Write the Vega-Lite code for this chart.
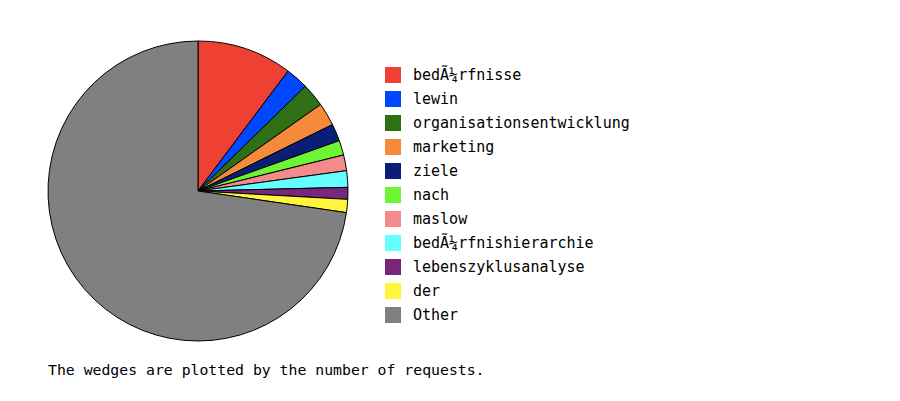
{
  "$schema": "https://vega.github.io/schema/vega-lite/v6.json",
  "width": 300,
  "height": 300,
  "autosize": {"type": "none"},
  "padding": {"left": 48, "top": 41, "right": 552, "bottom": 60},
  "background": "white",
  "data": {
    "values": [
      {"name": "bedÃ¼rfnisse", "requests": 369, "ord": 1},
      {"name": "lewin", "requests": 88, "ord": 2},
      {"name": "organisationsentwicklung", "requests": 91, "ord": 3},
      {"name": "marketing", "requests": 89, "ord": 4},
      {"name": "ziele", "requests": 67, "ord": 5},
      {"name": "nach", "requests": 57, "ord": 6},
      {"name": "maslow", "requests": 61, "ord": 7},
      {"name": "bedÃ¼rfnishierarchie", "requests": 64, "ord": 8},
      {"name": "lebenszyklusanalyse", "requests": 46, "ord": 9},
      {"name": "der", "requests": 51, "ord": 10},
      {"name": "Other", "requests": 2617, "ord": 11}
    ]
  },
  "title": {
    "text": "The wedges are plotted by the number of requests.",
    "orient": "bottom",
    "anchor": "start",
    "offset": 20,
    "dx": 2,
    "font": "DejaVu Sans Mono",
    "fontSize": 14.8,
    "fontWeight": "normal",
    "color": "black"
  },
  "mark": {"type": "arc", "outerRadius": 150, "stroke": "black", "strokeWidth": 1},
  "encoding": {
    "theta": {"field": "requests", "type": "quantitative", "stack": true},
    "order": {"field": "ord", "type": "quantitative"},
    "color": {
      "field": "name",
      "type": "nominal",
      "sort": ["bedÃ¼rfnisse", "lewin", "organisationsentwicklung", "marketing", "ziele", "nach", "maslow", "bedÃ¼rfnishierarchie", "lebenszyklusanalyse", "der", "Other"],
      "scale": {
        "domain": ["bedÃ¼rfnisse", "lewin", "organisationsentwicklung", "marketing", "ziele", "nach", "maslow", "bedÃ¼rfnishierarchie", "lebenszyklusanalyse", "der", "Other"],
        "range": ["#EF4034", "#0048FF", "#2E7016", "#F58A3C", "#0A1E78", "#6CF532", "#F58A8A", "#66FFFF", "#78287A", "#FFF53C", "#808080"]
      },
      "legend": {
        "orient": "none",
        "legendX": 337,
        "legendY": 26,
        "title": null,
        "symbolType": "square",
        "symbolSize": 256,
        "symbolStrokeWidth": 0,
        "labelFont": "DejaVu Sans Mono",
        "labelFontSize": 15,
        "labelColor": "black",
        "labelOffset": 12,
        "labelLimit": 400,
        "rowPadding": 8
      }
    }
  },
  "config": {"view": {"stroke": null}}
}
